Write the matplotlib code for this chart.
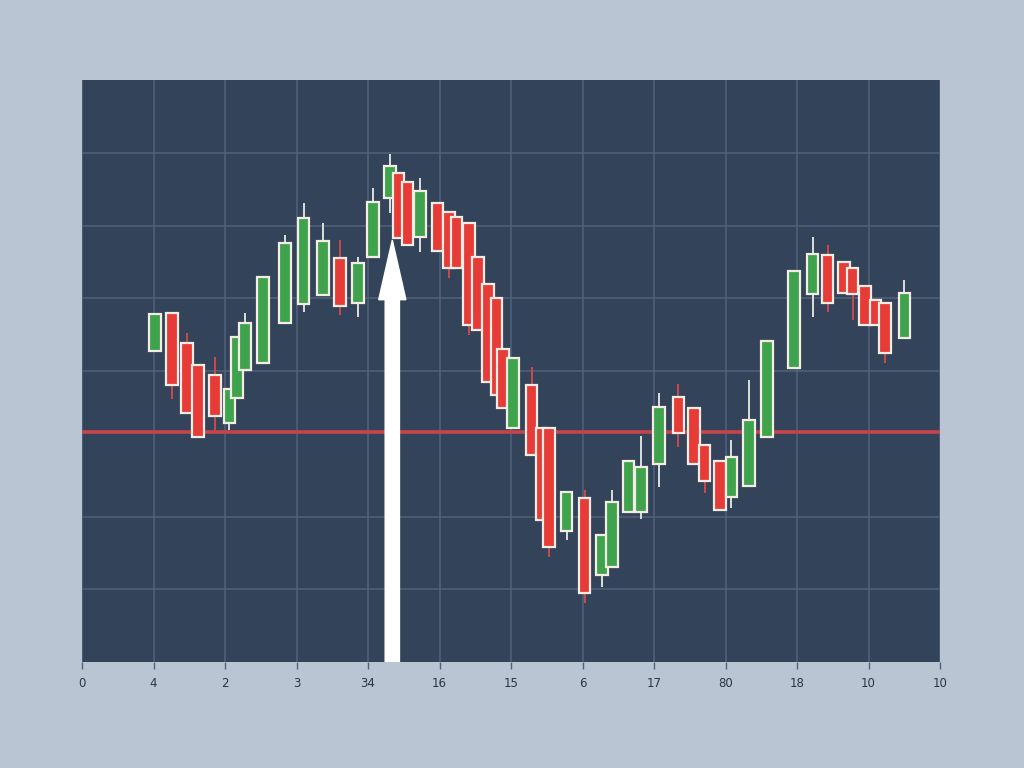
import matplotlib
matplotlib.use("Agg")
import matplotlib.pyplot as plt
from matplotlib.patches import FancyArrow

# candle positions (x) and prices
xpos = [1.02, 1.26, 1.47, 1.62, 1.86, 2.06, 2.17, 2.28, 2.53, 2.84,
        3.10, 3.37, 3.61, 3.86, 4.07, 4.31, 4.43, 4.55, 4.73, 4.97,
        5.13, 5.24, 5.41, 5.54, 5.68, 5.80, 5.89, 6.03, 6.29, 6.43,
        6.53, 6.78, 7.03, 7.27, 7.41, 7.64, 7.82, 8.07, 8.34, 8.56,
        8.71, 8.92, 9.08, 9.33, 9.58, 9.96, 10.22, 10.43, 10.66, 10.78,
        10.95, 11.10, 11.23, 11.50]
opens = [4.27, 4.80, 4.38, 4.08, 3.95, 3.29, 3.63, 4.01, 4.11, 4.66,
         4.92, 5.04, 5.55, 4.93, 5.57, 6.38, 6.72, 6.60, 5.84, 6.31,
         6.19, 6.12, 6.03, 5.57, 5.20, 5.00, 4.30, 3.22, 3.81, 3.22,
         3.22, 1.80, 2.25, 1.20, 1.31, 2.06, 2.06, 2.72, 3.64, 3.49,
         2.98, 2.76, 2.27, 2.42, 3.09, 4.04, 5.06, 5.59, 5.50, 5.42,
         5.17, 4.98, 4.93, 4.45]
closes = [4.78, 3.81, 3.42, 3.09, 3.38, 3.75, 4.47, 4.66, 5.29, 5.76,
          6.10, 5.79, 4.89, 5.48, 6.32, 6.82, 5.83, 5.73, 6.47, 5.65,
          5.42, 5.42, 4.63, 4.56, 3.85, 3.67, 3.49, 4.18, 2.85, 1.95,
          1.58, 2.34, 0.95, 1.75, 2.20, 2.76, 2.68, 3.51, 3.15, 2.72,
          2.49, 2.09, 2.82, 3.33, 4.41, 5.37, 5.61, 4.93, 5.07, 5.06,
          4.63, 4.63, 4.25, 5.07]
highs = [4.78, 4.80, 4.52, 4.08, 4.19, 3.75, 4.47, 4.80, 5.29, 5.87,
         6.31, 6.03, 5.80, 5.57, 6.52, 6.98, 6.72, 6.60, 6.65, 6.31,
         6.19, 6.12, 6.03, 5.57, 5.20, 5.00, 4.30, 4.18, 4.05, 3.22,
         3.22, 2.34, 2.36, 1.75, 2.36, 2.76, 3.11, 3.70, 3.82, 3.49,
         2.98, 2.76, 3.05, 3.88, 4.41, 5.37, 5.84, 5.73, 5.50, 5.42,
         5.17, 4.98, 4.93, 5.25]
lows = [4.27, 3.61, 3.42, 3.09, 3.19, 3.19, 3.63, 4.01, 4.11, 4.66,
        4.81, 5.04, 4.77, 4.74, 5.57, 6.17, 5.83, 5.73, 5.64, 5.65,
        5.28, 5.42, 4.49, 4.56, 3.85, 3.67, 3.49, 3.22, 2.85, 1.95,
        1.44, 1.68, 0.81, 1.03, 1.31, 2.06, 1.97, 2.41, 2.96, 2.72,
        2.32, 2.09, 2.12, 2.42, 3.09, 4.04, 4.74, 4.81, 5.07, 4.70,
        4.63, 4.63, 4.11, 4.45]

tick_labels = ['0', '4', '2', '3', '34', '16', '15', '6', '17', '80', '18', '10', '10']
level = 3.16
hgrid = [1, 2, 4, 5, 6, 7]

# arrow
arrow_x = 4.34
arrow_top = 5.80

bg = '#b9c5d3'
panel = '#334359'
grid_c = '#52627a'
green = '#3fa34d'
red = '#e63b36'
edge = '#f3ede6'

fig = plt.figure(figsize=(10.24, 7.68), dpi=100)
fig.patch.set_facecolor(bg)
ax = fig.add_axes([82/1024, 106/768, 858/1024, 582/768])
ax.set_facecolor(panel)
ax.set_xlim(0, 12)
ax.set_ylim(0, 8)

ax.set_xticks(range(13))
ax.set_xticklabels(tick_labels)
ax.set_yticks(hgrid)
ax.tick_params(axis='y', left=False, labelleft=False)
ax.tick_params(axis='x', colors=grid_c, length=5, width=1, labelcolor='#2e3541',
               labelsize=8.5, pad=6)
ax.grid(True, color=grid_c, lw=1.1)
ax.set_axisbelow(True)
for s in ax.spines.values():
    s.set_visible(False)

ax.axhline(level, color='#c8444c', lw=2.6, zorder=2)

w = 0.16
for x, o, c, h, l in zip(xpos, opens, closes, highs, lows):
    up = c >= o
    wick_c = '#e8ece6' if up else '#d8484a'
    ax.vlines(x, l, h, color=wick_c, lw=1.3, zorder=3)
    ax.bar(x, abs(c - o), bottom=min(o, c), width=w,
           color=green if up else red, edgecolor=edge, linewidth=1.6, zorder=4)

ax.add_patch(FancyArrow(arrow_x, 0, 0, arrow_top, width=0.2, head_width=0.38,
                        head_length=0.82, length_includes_head=True,
                        color='white', zorder=6))

fig.savefig('out.png', dpi=100, facecolor=bg)
